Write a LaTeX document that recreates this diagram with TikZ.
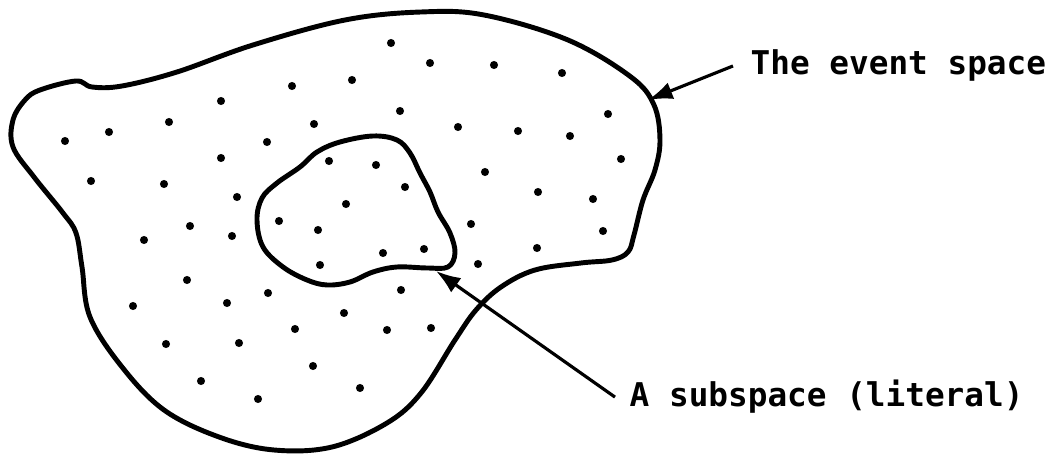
\documentclass[tikz,border=0pt]{standalone}
\usepackage{fontspec}
\setmonofont{DejaVu Sans Mono}
\usetikzlibrary{arrows.meta}
\begin{document}
\begin{tikzpicture}[
			x=0.01cm, y=-0.01cm,
			pt/.style={circle, fill=black, inner sep=0pt, minimum size=2.3pt},
			blob/.style={line width=1.4pt, line join=round},
			lbl/.style={font=\ttfamily\bfseries\fontsize{9.3}{11}\selectfont, inner ysep=0pt},
			arr/.style={-{Latex[length=7pt, width=5pt]}, line width=0.9pt}
			]
			\useasboundingbox (0,0) rectangle (1056,455);
			% the event space
			\draw[blob] plot[smooth cycle, tension=0.6] coordinates {
				(40,90) (76,81) (92,87) (122,86) (177,72) (253,45) (345,20) (421,12)
				(484,15) (568,40) (631,77) (654,105) (660,140) (655,170) (643,200)
				(634,235) (628,252) (612,260) (581,263) (535,270) (501,287) (476,310)
				(455,340) (421,393) (387,423) (332,447) (274,450) (219,437) (164,410)
				(122,367) (90,317) (82,267) (76,233) (63,213) (34,177) (13,147)
				(13,120) (25,100)};
			% the subspace
			\draw[blob] plot[smooth cycle, tension=0.6] coordinates {
				(257,220) (262,198) (277,183) (300,167) (317,152) (340,142) (373,136)
				(397,140) (410,153) (420,173) (430,192) (438,212) (450,233) (455,253)
				(448,267) (427,268) (397,267) (373,272) (350,282) (327,285) (307,280)
				(283,267) (263,247)};
			% points
			\foreach [count=\i] \x/\y in {
				391/43, 430/63, 494/65, 562/73, 352/80, 292/86, 221/101, 400/111,
				608/114, 169/122, 314/124, 458/127, 518/131, 570/136, 109/132, 65/141,
				267/142, 221/158, 621/159, 329/161, 376/165, 485/172, 91/181, 164/184,
				405/187, 237/197, 538/192, 593/199, 346/204, 279/221, 318/230, 190/226,
				471/224, 603/231, 144/240, 232/236, 383/253, 424/249, 537/248, 320/265,
				478/264, 187/280, 268/293, 401/290, 133/306, 227/303, 344/313, 295/329,
				387/330, 431/328, 166/344, 239/343, 313/366, 201/381, 360/388, 258/399}
				\node[pt] (p\i) at (\x,\y) {};
			% labels
			\node[lbl, inner xsep=0.17cm, anchor=base west] (evlbl) at (733,75) {The event space};
			\node[lbl, inner xsep=0.14cm, anchor=base west] (sublbl) at (615,407) {A subspace (literal)};
			\coordinate (evtip) at (648,100);
			\coordinate (subtip) at (436,271);
			\draw[arr] (evlbl.west) -- (evtip);
			\draw[arr] (sublbl.west) -- (subtip);
		\end{tikzpicture}
\end{document}
